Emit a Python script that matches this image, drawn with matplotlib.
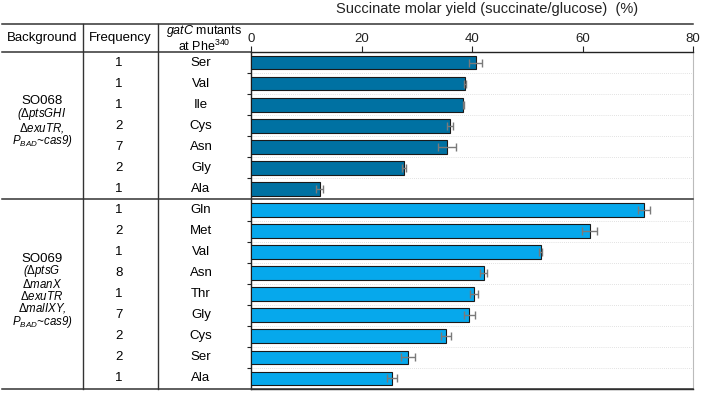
import matplotlib
matplotlib.use("Agg")
import matplotlib.pyplot as plt
from matplotlib.transforms import blended_transform_factory
from matplotlib.lines import Line2D

plt.rcParams['font.family'] = ['Liberation Sans', 'DejaVu Sans']
plt.rcParams['mathtext.fontset'] = 'custom'
plt.rcParams['mathtext.rm'] = 'Liberation Sans'
plt.rcParams['mathtext.it'] = 'Liberation Sans:italic'
plt.rcParams['mathtext.bf'] = 'Liberation Sans:bold'

# ---- data ----
g1_freq = [1, 1, 1, 2, 7, 2, 1]
g1_aa = ["Ser", "Val", "Ile", "Cys", "Asn", "Gly", "Ala"]
g1_yield = [40.7, 38.8, 38.4, 36.0, 35.5, 27.7, 12.4]
g1_err = [1.2, 0.2, 0.1, 0.6, 1.6, 0.3, 0.6]

g2_freq = [1, 2, 1, 8, 1, 7, 2, 2, 1]
g2_aa = ["Gln", "Met", "Val", "Asn", "Thr", "Gly", "Cys", "Ser", "Ala"]
g2_yield = [71.1, 61.3, 52.4, 42.1, 40.3, 39.5, 35.3, 28.4, 25.6]
g2_err = [1.1, 1.35, 0.2, 0.6, 0.7, 1.0, 0.85, 1.3, 0.9]

g1_name = "SO068"
g1_geno = [r"($\Delta$ptsGHI", r"$\Delta$exuTR,", r"$\mathit{P}_{\mathit{BAD}}$~cas9)"]
g2_name = "SO069"
g2_geno = [r"($\Delta$ptsG", r"$\Delta$manX", r"$\Delta$exuTR",
           r"$\Delta$malIXY,", r"$\mathit{P}_{\mathit{BAD}}$~cas9)"]

xticks = [0, 20, 40, 60, 80]
title = "Succinate molar yield (succinate/glucose)  (%)"

dark = "#0071A2"
light = "#06A8EC"

W, H = 703, 393
fig = plt.figure(figsize=(W / 100, H / 100), dpi=100)
ax_l, ax_r, ax_t, ax_b = 251, 693, 52, 389
ax = fig.add_axes([ax_l / W, 1 - ax_b / H, (ax_r - ax_l) / W, (ax_b - ax_t) / H])

n1, n2 = len(g1_yield), len(g2_yield)
n = n1 + n2
y1 = [i + 0.5 for i in range(n1)]
y2 = [n1 + i + 0.5 for i in range(n2)]

ax.barh(y1, g1_yield, height=0.65, color=dark, edgecolor="#1a1a1a", linewidth=0.8, zorder=3)
ax.barh(y2, g2_yield, height=0.65, color=light, edgecolor="#1a1a1a", linewidth=0.8, zorder=3)
ax.errorbar(g1_yield, y1, xerr=g1_err, fmt="none", ecolor="#7a7a7a", elinewidth=1.0,
            capsize=3, capthick=1.0, zorder=4)
ax.errorbar(g2_yield, y2, xerr=g2_err, fmt="none", ecolor="#7a7a7a", elinewidth=1.0,
            capsize=3, capthick=1.0, zorder=4)

ax.set_xlim(0, 80)
ax.set_ylim(n, 0)
ax.xaxis.tick_top()
ax.set_xticks(xticks)
ax.tick_params(axis="x", direction="out", length=4, width=0.8, pad=1, labelsize=9.5, colors="#222222")
bounds = [b for b in range(1, n) if b != n1]
ax.set_yticks(bounds)
ax.set_yticklabels([])
ax.tick_params(axis="y", direction="out", length=3, width=0.8, colors="#222222")
for b in bounds:
    ax.axhline(b, color="#d8d8d8", lw=0.6, ls=(0, (1, 1.5)), zorder=1)

for s in ["top", "bottom", "left"]:
    ax.spines[s].set_color("#222222")
    ax.spines[s].set_linewidth(1.0)
ax.spines["right"].set_color("#bbbbbb")
ax.spines["right"].set_linewidth(0.8)

tr = blended_transform_factory(fig.transFigure, ax.transData)
row_px = (ax_b - ax_t) / n
top_y = (24 - ax_t) / row_px
hdr_y = (38 - ax_t) / row_px
x_left = 2 / W
x_right = ax_r / W

def hline(y, x0, x1, color="#333333", lw=1.1):
    fig.add_artist(Line2D([x0, x1], [y, y], transform=tr, color=color, lw=lw, clip_on=False))

hline(top_y, x_left, x_right)
hline(0, x_left, ax_l / W)
hline(n1, x_left, x_right)
hline(n, x_left, x_right)
for xv in [83, 158]:
    fig.add_artist(Line2D([xv / W, xv / W], [top_y, n], transform=tr, color="#333333",
                          lw=1.0, clip_on=False))

fs = 9.5
fig.text(0.5 * (334 + 640) / W, 1 - 9 / H, title, ha="center", va="center", fontsize=10.5, color="#222222")
fig.text(42 / W, hdr_y, "Background", transform=tr, ha="center", va="center", fontsize=fs)
fig.text(120 / W, hdr_y, "Frequency", transform=tr, ha="center", va="center", fontsize=fs)
fig.text(204 / W, hdr_y + 0.02, "$\\mathit{gatC}$ mutants\nat Phe$^{340}$", transform=tr,
         ha="center", va="center", multialignment="center", fontsize=9, linespacing=0.95)

for yy, f, a in zip(y1 + y2, g1_freq + g2_freq, g1_aa + g2_aa):
    fig.text(119 / W, yy, str(f), transform=tr, ha="center", va="center", fontsize=fs)
    fig.text(201 / W, yy, a, transform=tr, ha="center", va="center", fontsize=fs)


def block(name, geno, name_px, geno_center_px):
    fig.text(42 / W, (name_px - ax_t) / row_px, name, transform=tr, ha="center", va="center",
             fontsize=9.5)
    fig.text(42 / W, (geno_center_px - ax_t) / row_px, "\n".join(geno), transform=tr,
             ha="center", va="center", multialignment="center", fontsize=8.3,
             style="italic", linespacing=0.86)

block(g1_name, g1_geno, 101.0, 127.5)
block(g2_name, g2_geno, 258.5, 296.5)

fig.savefig("out.png", dpi=100)
